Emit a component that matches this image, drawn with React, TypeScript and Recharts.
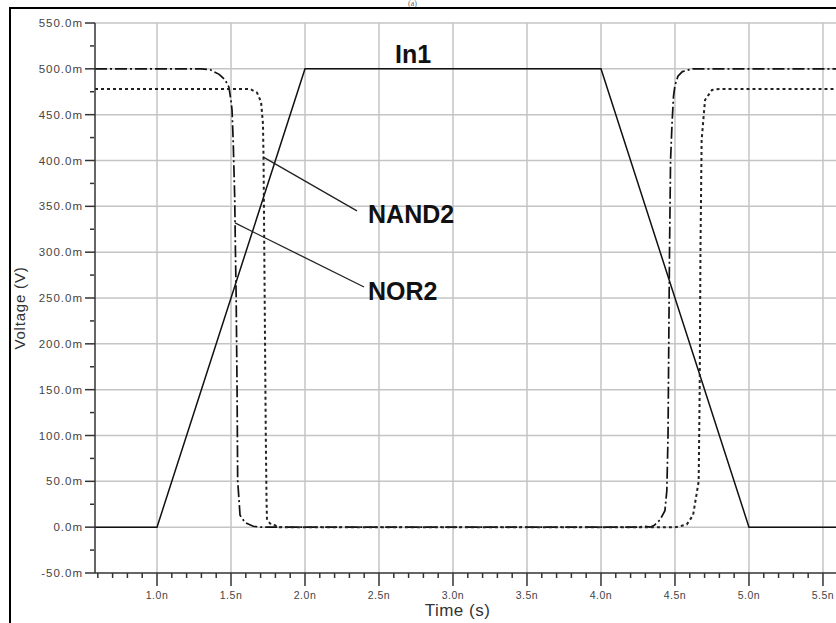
import React from 'react';
import {
  LineChart,
  Line,
  XAxis,
  YAxis,
  CartesianGrid,
  ReferenceLine,
  ReferenceDot,
} from 'recharts';

// ---- Data (time in ns, voltage in mV) ----
const in1Time = [0.581, 1.0, 2.0, 4.0, 5.0, 5.588];
const in1Volt = [0, 0, 500, 500, 0, 0];

const nor2Time = [
  0.581, 1.3, 1.36, 1.42, 1.46, 1.486, 1.5, 1.507, 1.515, 1.525, 1.53, 1.535, 1.541, 1.545, 1.561,
  1.595, 1.65, 1.7, 4.25, 4.3, 4.33, 4.36, 4.399, 4.432, 4.445, 4.453, 4.458, 4.463, 4.47, 4.48,
  4.486, 4.49, 4.5, 4.52, 4.55, 4.62, 5.588,
];
const nor2Volt = [
  500, 500, 499, 494, 488, 480, 465, 455, 420, 360, 300, 250, 150, 51, 13,
  5, 1, 0, 0, 1, 0, 2, 8, 18, 40, 100, 200, 300, 400, 440,
  458, 470, 482, 492, 497, 500, 500,
];

const nand2Time = [
  0.581, 1.6, 1.628, 1.676, 1.703, 1.716, 1.72, 1.725, 1.73, 1.735, 1.74, 1.743, 1.77, 1.8, 1.811,
  4.5, 4.534, 4.58, 4.622, 4.65, 4.66, 4.667, 4.672, 4.68, 4.703, 4.75, 4.8, 5.588,
];
const nand2Volt = [
  478, 478, 478, 474, 464, 440, 400, 300, 200, 100, 30, 8, 3, 2, 0,
  0, 1, 3, 13, 40, 50, 150, 300, 422, 466, 477, 478, 478,
];

// ---- Axis ticks ----
const xDomain: [number, number] = [0.581, 5.588];
const yDomain: [number, number] = [-50, 550];
const xMajorTicks = [1.0, 1.5, 2.0, 2.5, 3.0, 3.5, 4.0, 4.5, 5.0, 5.5];
const xAllTicks = [
  0.6, 0.7, 0.8, 0.9, 1.0, 1.1, 1.2, 1.3, 1.4, 1.5, 1.6, 1.7, 1.8, 1.9, 2.0, 2.1, 2.2, 2.3, 2.4, 2.5,
  2.6, 2.7, 2.8, 2.9, 3.0, 3.1, 3.2, 3.3, 3.4, 3.5, 3.6, 3.7, 3.8, 3.9, 4.0, 4.1, 4.2, 4.3, 4.4, 4.5,
  4.6, 4.7, 4.8, 4.9, 5.0, 5.1, 5.2, 5.3, 5.4, 5.5,
];
const yGridValues = [0, 50, 100, 150, 200, 250, 300, 350, 400, 450, 500, 550];
const yAllTicks = [
  -50, -25, 0, 25, 50, 75, 100, 125, 150, 175, 200, 225, 250, 275, 300, 325, 350, 375, 400, 425,
  450, 475, 500, 525, 550,
];

// ---- Annotations ----
const nand2Leader = [
  { x: 1.716, y: 403.9 },
  { x: 2.351, y: 345.0 },
];
const nor2Leader = [
  { x: 1.527, y: 331.9 },
  { x: 2.399, y: 262.0 },
];
const labels = [
  { text: 'In1', x: 2.608, y: 506.5 },
  { text: 'NAND2', x: 2.426, y: 331.9 },
  { text: 'NOR2', x: 2.426, y: 247.8 },
];

const toPoints = (ts: number[], vs: number[]) => ts.map((t, i) => ({ t, v: vs[i] }));
const in1Data = toPoints(in1Time, in1Volt);
const nor2Data = toPoints(nor2Time, nor2Volt);
const nand2Data = toPoints(nand2Time, nand2Volt);

const FONT = '"Liberation Sans", Arial, sans-serif';
const AXIS_COLOR = '#333';

const isMajor = (v: number, step: number) => Math.abs(v / step - Math.round(v / step)) < 1e-6;

const YTick = (props: any) => {
  const { x, y, payload } = props;
  const v = payload.value as number;
  if (isMajor(v, 50)) {
    return (
      <g>
        <line x1={x - 10} x2={x} y1={y} y2={y} stroke={AXIS_COLOR} strokeWidth={1.5} />
        <text
          x={x - 12}
          y={y}
          dy={4}
          textAnchor="end"
          fontFamily={FONT}
          fontSize={11.5}
          letterSpacing={1}
          fill="#444"
        >
          {`${v.toFixed(1)}m`}
        </text>
      </g>
    );
  }
  return <line x1={x - 5} x2={x - 1} y1={y} y2={y} stroke={AXIS_COLOR} strokeWidth={1.5} />;
};

const XTick = (props: any) => {
  const { x, y, payload } = props;
  const v = payload.value as number;
  if (isMajor(v, 0.5)) {
    return (
      <g>
        <line x1={x} x2={x} y1={y} y2={y + 13} stroke={AXIS_COLOR} strokeWidth={1.5} />
        <text
          x={x}
          y={y + 26}
          textAnchor="middle"
          fontFamily={FONT}
          fontSize={10.5}
          letterSpacing={0.5}
          fill="#444"
        >
          {`${v.toFixed(1)}n`}
        </text>
      </g>
    );
  }
  return <line x1={x} x2={x} y1={y} y2={y + 5} stroke={AXIS_COLOR} strokeWidth={1.5} />;
};

const makeLabel = (text: string) => (p: any) => {
  const vb = p.viewBox || {};
  return (
    <text x={vb.x} y={vb.y} fontFamily={FONT} fontSize={25} fontWeight="bold" fill="#111">
      {text}
    </text>
  );
};

export default function App() {
  return (
    <div
      style={{
        position: 'absolute',
        left: 0,
        top: 0,
        width: 836,
        height: 623,
        overflow: 'hidden',
        background: '#fff',
      }}
    >
      <div
        style={{
          position: 'absolute',
          left: 408,
          top: 0,
          fontFamily: 'serif',
          fontSize: 8,
          lineHeight: '8px',
          color: '#666',
        }}
      >
        (a)
      </div>
      <div
        style={{
          position: 'absolute',
          left: 9,
          top: 7,
          width: 900,
          height: 700,
          borderLeft: '2.5px solid #000',
          borderTop: '2.5px solid #000',
        }}
      />
      <div style={{ position: 'absolute', left: 0, top: 0 }}>
        <LineChart width={836} height={623} margin={{ top: 23, right: 0, bottom: 0, left: 0 }}>
          <CartesianGrid
            stroke="#c4c4c4"
            strokeWidth={1.5}
            horizontalValues={yGridValues}
            verticalValues={xMajorTicks}
          />
          <XAxis
            type="number"
            dataKey="t"
            domain={xDomain}
            allowDataOverflow
            ticks={xAllTicks}
            interval={0}
            tickSize={0}
            tickMargin={0}
            tick={<XTick />}
            height={50}
            axisLine={{ stroke: AXIS_COLOR, strokeWidth: 1.5 }}
            tickLine={false}
            label={{
              value: 'Time (s)',
              position: 'insideBottom',
              offset: 7,
              dx: -8,
              fontFamily: FONT,
              fontSize: 17,
              fill: '#333',
              letterSpacing: 0.5,
            }}
          />
          <YAxis
            type="number"
            dataKey="v"
            domain={yDomain}
            allowDataOverflow
            ticks={yAllTicks}
            interval={0}
            tickSize={0}
            tickMargin={0}
            tick={<YTick />}
            width={95}
            axisLine={{ stroke: AXIS_COLOR, strokeWidth: 1.5 }}
            tickLine={false}
            label={{
              value: 'Voltage (V)',
              angle: -90,
              position: 'insideLeft',
              offset: 20,
              dy: 10,
              fontFamily: FONT,
              fontSize: 15,
              fill: '#333',
              letterSpacing: 0.8,
              style: { textAnchor: 'middle' },
            }}
          />
          <Line
            data={in1Data}
            dataKey="v"
            type="linear"
            stroke="#111"
            strokeWidth={1.5}
            dot={false}
            activeDot={false}
            isAnimationActive={false}
          />
          <Line
            data={nor2Data}
            dataKey="v"
            type="linear"
            stroke="#111"
            strokeWidth={1.7}
            strokeDasharray="12 3 2 3"
            dot={false}
            activeDot={false}
            isAnimationActive={false}
          />
          <Line
            data={nand2Data}
            dataKey="v"
            type="linear"
            stroke="#222"
            strokeWidth={2}
            strokeDasharray="3 3"
            dot={false}
            activeDot={false}
            isAnimationActive={false}
          />
          <ReferenceLine
            segment={nand2Leader}
            stroke="#222"
            strokeWidth={1.3}
            ifOverflow="visible"
          />
          <ReferenceLine
            segment={nor2Leader}
            stroke="#222"
            strokeWidth={1.3}
            ifOverflow="visible"
          />
          {labels.map((l) => (
            <ReferenceDot
              key={l.text}
              x={l.x}
              y={l.y}
              r={0}
              fill="none"
              stroke="none"
              ifOverflow="visible"
              label={makeLabel(l.text)}
            />
          ))}
        </LineChart>
      </div>
    </div>
  );
}
